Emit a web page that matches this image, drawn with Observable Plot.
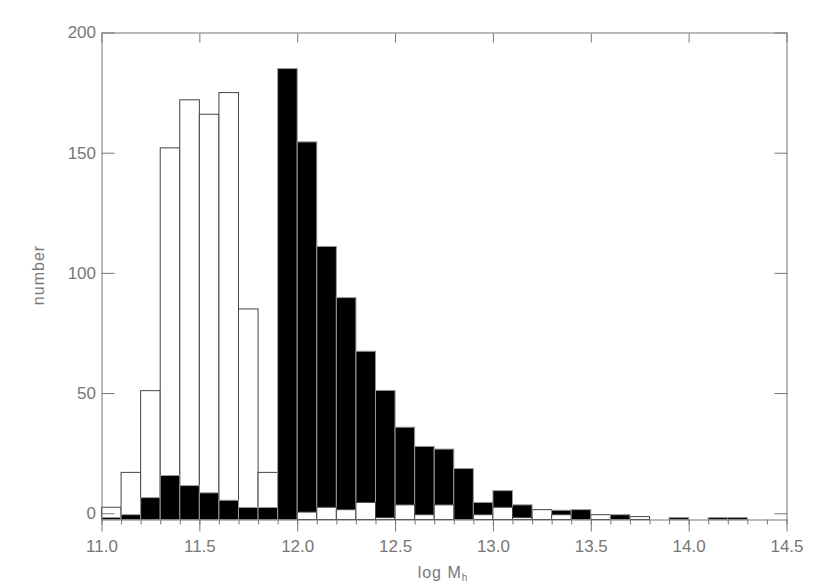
<!DOCTYPE html>
<html>
<head>
<meta charset="utf-8">
<script src="https://cdn.jsdelivr.net/npm/d3@7"></script>
<script src="https://cdn.jsdelivr.net/npm/@observablehq/plot@0.6"></script>
<style>
  html, body { margin: 0; padding: 0; background: #fff; }
  #chart svg { display: block; }
</style>
</head>
<body>
<div id="chart"></div>
<script>
// Bin left edges (log M_h), bin width 0.1
const binStart = [11.0, 11.1, 11.2, 11.3, 11.4, 11.5, 11.6, 11.7, 11.8, 11.9,
                  12.0, 12.1, 12.2, 12.3, 12.4, 12.5, 12.6, 12.7, 12.8, 12.9,
                  13.0, 13.1, 13.2, 13.3, 13.4, 13.5, 13.6, 13.7, 13.8, 13.9,
                  14.0, 14.1, 14.2, 14.3, 14.4];
const binWidth = 0.1;
// Open (outlined) histogram (null = no bar)
const openCounts = [2.5, 17, 51, 152, 172, 166, 175, 85, 17, null,
                    0.5, 2.5, 1.5, 4.5, -1.8, 3.5, -0.6, 3.5, null, -0.6,
                    2.5, -1.8, 1.5, -0.6, null, -0.6, null, -1.4, null, null,
                    null, null, null, null, null];
// Filled (black) histogram
const filledCounts = [-1.8, -0.6, 6.5, 15.7, 11.5, 8.5, 5.4, 2.4, 2.4, 185,
                      154.5, 111, 89.7, 67.4, 51.1, 35.8, 27.8, 26.7, 18.6, 4.5,
                      9.4, 3.5, null, 1.25, 1.5, null, -0.6, null, null, -1.8,
                      null, -1.8, -1.8, null, null];
const yTickValues = [0, 50, 100, 150, 200];
const xTickValues = [11.0, 11.5, 12.0, 12.5, 13.0, 13.5, 14.0, 14.5];
const xMinorTicks = [11.0, 11.1, 11.2, 11.3, 11.4, 11.5, 11.6, 11.7, 11.8, 11.9,
                     12.0, 12.1, 12.2, 12.3, 12.4, 12.5, 12.6, 12.7, 12.8, 12.9,
                     13.0, 13.1, 13.2, 13.3, 13.4, 13.5, 13.6, 13.7, 13.8, 13.9,
                     14.0, 14.1, 14.2, 14.3, 14.4, 14.5];
const xDomain = [11.0, 14.5];
const yDomain = [-2.6, 200];
const xLabel = "log M";
const xLabelSub = "h";
const yLabel = "number";

const rows = binStart.map((x0, i) => ({x0, x1: x0 + binWidth, open: openCounts[i], filled: filledCounts[i]}));
const openRows = rows.filter(d => d.open != null);
const filledRows = rows.filter(d => d.filled != null);
const openFront = openRows.filter(d => d.filled != null && d.open < d.filled);
const base = () => yDomain[0];

const axisColor = "#777";
const fontFam = "'Liberation Sans', Arial, sans-serif";

const plot = Plot.plot({
  width: 817,
  height: 584,
  marginLeft: 101.5,
  marginRight: 30.5,
  marginTop: 32.5,
  marginBottom: 64.5,
  style: {fontFamily: fontFam, fontSize: "17px", color: axisColor, background: "#fff"},
  x: {domain: xDomain},
  y: {domain: yDomain},
  marks: [
    Plot.rect(openRows, {x1: "x0", x2: "x1", y1: base, y2: "open", fill: "white", stroke: "#444", strokeWidth: 1}),
    Plot.rect(filledRows, {x1: "x0", x2: "x1", y1: base, y2: "filled", fill: "black", stroke: "#999", strokeWidth: 1}),
    Plot.rect(openFront, {x1: "x0", x2: "x1", y1: base, y2: "open", fill: "white", stroke: "#444", strokeWidth: 1}),
    Plot.frame({stroke: axisColor}),
    // left axis labels and inward ticks
    Plot.axisY({anchor: "left", ticks: yTickValues, tickSize: 0, tickPadding: 6, label: null, letterSpacing: 1}),
    Plot.axisY({anchor: "left", ticks: yTickValues, tickSize: -13, tickFormat: () => "", label: null}),
    Plot.axisY({anchor: "right", ticks: yTickValues, tickSize: -13, tickFormat: () => "", label: null}),
    // bottom axis: major and minor ticks (outward)
    Plot.axisX({anchor: "bottom", ticks: xTickValues, tickSize: 12, tickPadding: 8, tickFormat: d => d.toFixed(1), label: null, letterSpacing: 1.5}),
    Plot.axisX({anchor: "bottom", ticks: xMinorTicks, tickSize: 5, tickFormat: () => "", label: null}),
    // top axis: inward major ticks
    Plot.axisX({anchor: "top", ticks: xTickValues, tickSize: -9, tickFormat: () => "", label: null})
  ]
});

document.getElementById("chart").appendChild(plot);

const svg = d3.select(plot);
const t = svg.append("text")
  .attr("x", 443).attr("y", 578)
  .attr("text-anchor", "middle")
  .attr("fill", axisColor)
  .attr("font-family", fontFam)
  .attr("font-size", 16)
  .attr("letter-spacing", 1);
t.append("tspan").text(xLabel);
t.append("tspan").attr("font-size", 10).attr("dy", 3).text(xLabelSub);

svg.append("text")
  .attr("transform", "translate(44,275) rotate(-90)")
  .attr("text-anchor", "middle")
  .attr("fill", axisColor)
  .attr("font-family", fontFam)
  .attr("font-size", 16)
  .attr("letter-spacing", 1)
  .text(yLabel);
</script>
</body>
</html>
